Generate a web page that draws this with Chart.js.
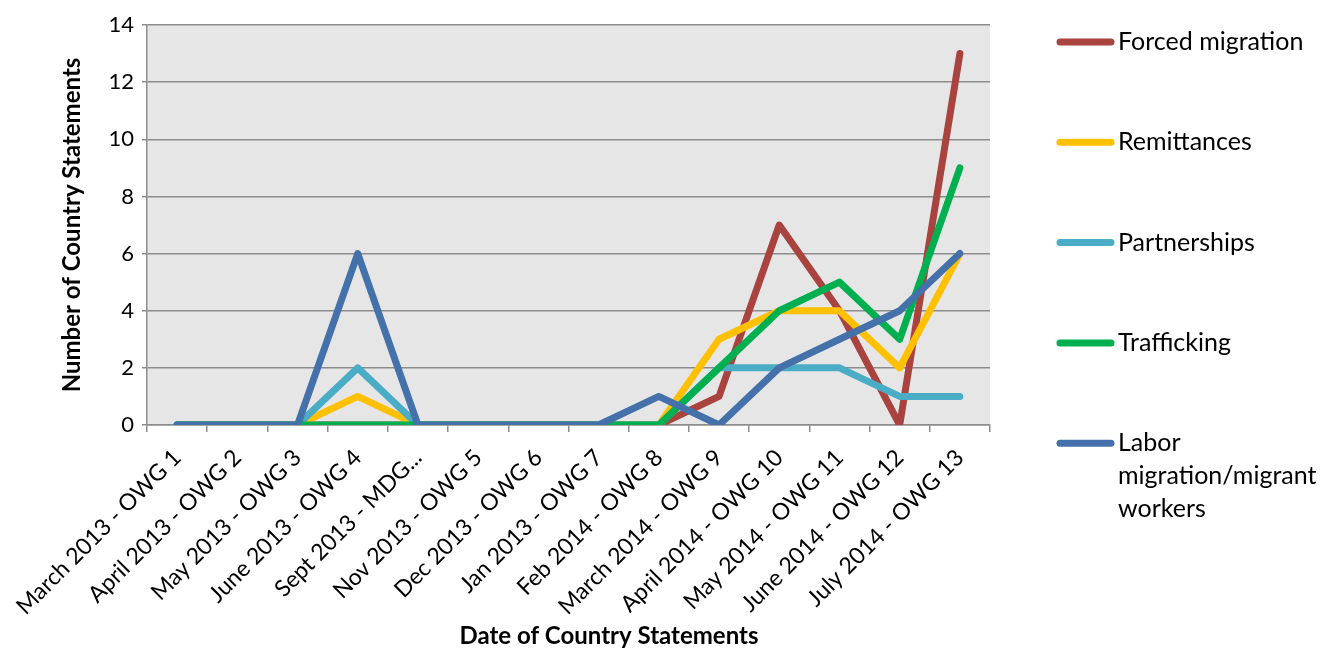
<!DOCTYPE html>
<html>
<head>
<meta charset="utf-8">
<script src="https://cdn.jsdelivr.net/npm/chart.js@4.4.0/dist/chart.umd.min.js"></script>
<style>
  html, body { margin: 0; padding: 0; background: #fff; }
</style>
</head>
<body>
<canvas id="myChart" width="1320" height="649"></canvas>
<script>
const xLabels = [
  "March 2013 - OWG 1", "April 2013 - OWG 2", "May 2013 - OWG 3", "June 2013 - OWG 4",
  "Sept 2013 - MDG...", "Nov 2013 - OWG 5", "Dec 2013 - OWG 6", "Jan 2013 - OWG 7",
  "Feb 2014 - OWG 8", "March 2014 - OWG 9", "April 2014 - OWG 10", "May 2014 - OWG 11",
  "June 2014 - OWG 12", "July 2014 - OWG 13"
];
const seriesNames = ["Forced migration", "Remittances", "Partnerships", "Trafficking", "Labor migration/migrant workers"];
const forcedMigration = [0, 0, 0, 0, 0, 0, 0, 0, 0, 1, 7, 4, 0, 13];
const remittances     = [0, 0, 0, 1, 0, 0, 0, 0, 0, 3, 4, 4, 2, 6];
const partnerships    = [0, 0, 0, 2, 0, 0, 0, 0, 0, 2, 2, 2, 1, 1];
const trafficking     = [0, 0, 0, 0, 0, 0, 0, 0, 0, 2, 4, 5, 3, 9];
const laborMigration  = [0, 0, 0, 6, 0, 0, 0, 0, 1, 0, 2, 3, 4, 6];
const yTicks = [0, 2, 4, 6, 8, 10, 12, 14];
const xTitle = "Date of Country Statements";
const yTitle = "Number of Country Statements";

const colors = ["#A8433F", "#FFC000", "#4BACC6", "#00B050", "#4471A9"];
const FONT = "Lato, Calibri, 'Liberation Sans', sans-serif";

function line(label, data, color, order) {
  return {
    label: label,
    data: data,
    borderColor: color,
    backgroundColor: color,
    borderWidth: 7,
    borderJoinStyle: "round",
    borderCapStyle: "round",
    pointRadius: 0,
    pointHoverRadius: 0,
    tension: 0,
    fill: false,
    order: order,
  };
}

// plot background, axis titles and the right-hand legend
const decor = {
  id: "decor",
  beforeDraw(chart) {
    const { ctx, chartArea: a } = chart;
    ctx.save();
    ctx.fillStyle = "#E6E6E6";
    ctx.fillRect(a.left, a.top, a.right - a.left, a.bottom - a.top);
    ctx.restore();
  },
  afterDraw(chart) {
    const { ctx, chartArea: a } = chart;
    ctx.save();
    ctx.fillStyle = "#000";
    ctx.font = "bold 24px " + FONT;
    ctx.textAlign = "center";
    ctx.textBaseline = "middle";
    ctx.fillText(xTitle, 609, 636);
    ctx.translate(72, (a.top + a.bottom) / 2);
    ctx.rotate(-Math.PI / 2);
    ctx.fillText(yTitle, 0, 0);
    ctx.restore();

    ctx.save();
    ctx.font = "25px " + FONT;
    ctx.textAlign = "left";
    ctx.textBaseline = "middle";
    chart.data.datasets.forEach((ds, i) => {
      const y = 42 + i * 100.3;
      ctx.strokeStyle = ds.borderColor;
      ctx.lineWidth = 7;
      ctx.lineCap = "round";
      ctx.beginPath();
      ctx.moveTo(1060, y);
      ctx.lineTo(1111, y);
      ctx.stroke();
      // wrap long names
      const words = ds.label.split(" ");
      const lines = [];
      let cur = "";
      words.forEach(w => {
        const t = cur ? cur + " " + w : w;
        if (cur && ctx.measureText(t).width > 200) { lines.push(cur); cur = w; }
        else cur = t;
      });
      lines.push(cur);
      ctx.fillStyle = "#000";
      lines.forEach((l, k) => ctx.fillText(l, 1118, y + k * 33));
    });
    ctx.restore();
  }
};

new Chart("myChart", {
  type: "line",
  data: {
    labels: xLabels,
    datasets: [
      line(seriesNames[0], forcedMigration, colors[0], 4),
      line(seriesNames[1], remittances, colors[1], 3),
      line(seriesNames[2], partnerships, colors[2], 2),
      line(seriesNames[3], trafficking, colors[3], 1),
      line(seriesNames[4], laborMigration, colors[4], 0),
    ],
  },
  options: {
    responsive: false,
    animation: false,
    layout: { padding: { top: 25, right: 330, left: 0, bottom: 0 } },
    plugins: {
      legend: { display: false },
      tooltip: { enabled: false },
    },
    scales: {
      x: {
        offset: true,
        grid: { offset: true, drawOnChartArea: false, drawTicks: true, tickLength: 7, color: "#8C8C8C", lineWidth: 1.5 },
        border: { color: "#8C8C8C", width: 1.5 },
        ticks: {
          autoSkip: false, minRotation: 45, maxRotation: 45, padding: 12,
          color: "#000", font: { family: FONT, size: 23 },
        },
        afterFit(scale) { scale.height = 224; },
      },
      y: {
        min: yTicks[0],
        max: yTicks[yTicks.length - 1],
        afterBuildTicks(scale) { scale.ticks = yTicks.map(v => ({ value: v })); },
        grid: { color: "#8C8C8C", lineWidth: 1.5, tickLength: 5 },
        border: { color: "#8C8C8C", width: 1.5 },
        ticks: { color: "#000", padding: 8, font: { family: FONT, size: 22 } },
        afterFit(scale) { scale.width = 147; },
      },
    },
  },
  plugins: [decor],
});
</script>
</body>
</html>
